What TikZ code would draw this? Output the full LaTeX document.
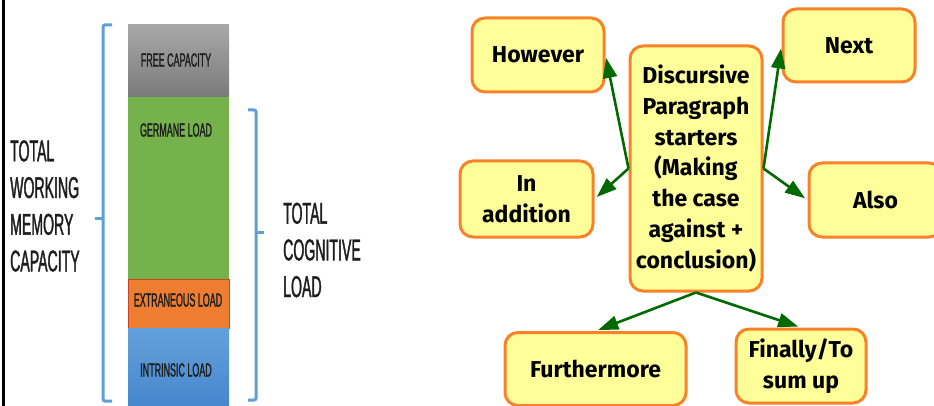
\documentclass[tikz,border=0pt]{standalone}
\usepackage{fontspec}
\setmainfont{Fira Sans}
\newfontfamily\narrowsans[FakeStretch=0.47,FakeBold=1.2]{Liberation Sans}
\usetikzlibrary{arrows.meta}

\definecolor{bracketblue}{RGB}{96,158,214}
\definecolor{freetop}{RGB}{168,168,168}
\definecolor{freebot}{RGB}{122,122,122}
\definecolor{germane}{RGB}{118,178,76}
\definecolor{extraneous}{RGB}{238,125,50}
\definecolor{extraedge}{RGB}{200,70,40}
\definecolor{intrtop}{RGB}{100,160,218}
\definecolor{intrbot}{RGB}{70,135,205}
\definecolor{labelink}{RGB}{30,30,30}
\definecolor{boxfill}{RGB}{255,255,153}
\definecolor{boxedge}{RGB}{248,130,40}
\definecolor{arrowgreen}{RGB}{0,105,0}

\tikzset{
  bracket/.style={draw=bracketblue, line width=3pt},
  sidelabel/.style={font=\narrowsans\fontsize{30}{36.7}\selectfont, align=left,
    inner sep=0pt, text=labelink},
  barlabel/.style={font=\narrowsans\fontsize{19}{22}\selectfont, inner sep=0pt,
    text=labelink},
  starter/.style={draw=boxedge, fill=boxfill, line width=3pt, rounded corners=13pt,
    align=center, inner sep=2pt, font=\bfseries\fontsize{23}{30.7}\selectfont,
    minimum width=#1},
  flow/.style={draw=arrowgreen, line width=2.6pt,
    -{Triangle[length=20pt,width=14pt]}, shorten >=3pt}
}

\begin{document}
\begin{tikzpicture}[x=1pt,y=-1pt]
\useasboundingbox (0,0) rectangle (934,406);

% frame line at the left edge
\draw[line width=3pt] (3,0) -- (3,406);

% stacked capacity bar
\shade[top color=freetop, bottom color=freebot] (128,25) rectangle (229,97);
\fill[germane] (128,97) rectangle (229,279);
\filldraw[fill=extraneous, draw=extraedge, line width=0.8pt] (128,279) rectangle (229,328);
\shade[top color=intrtop, bottom color=intrbot] (128,328) rectangle (229,406);

\node[barlabel] (free)  at (176,60)  {FREE CAPACITY};
\node[barlabel] (germ)  at (176,130) {GERMANE LOAD};
\node[barlabel] (extra) at (178,300) {EXTRANEOUS LOAD};
\node[barlabel] (intr)  at (176,370) {INTRINSIC LOAD};

% brackets
\draw[bracket, rounded corners=2pt] (112,25) -- (103,25) -- (103,401) -- (112,401);
\draw[bracket] (103,219) -- (95,219);
\draw[bracket, rounded corners=2pt] (248,110) -- (256,110) -- (256,400) -- (248,400);
\draw[bracket] (256,232) -- (264,232);

\node[sidelabel, anchor=west] (wm) at (10,206) {TOTAL\\WORKING\\MEMORY\\CAPACITY};
\node[sidelabel, anchor=west] (cl) at (283,250) {TOTAL\\COGNITIVE\\LOAD};

% paragraph starters
\node[starter=132pt, minimum height=245pt] (hub) at (696,168.5)
  {Discursive\\Paragraph\\starters\\(Making\\the case\\against +\\conclusion)};
\node[starter=132pt, minimum height=74pt] (however) at (538,55) {However};
\node[starter=132pt, minimum height=73pt] (next) at (849,45.5) {Next};
\node[starter=133pt, minimum height=76pt] (inadd) at (526.5,199) {In\\addition};
\node[starter=133pt, minimum height=74pt] (also) at (875.5,200) {Also};
\node[starter=181pt, minimum height=73pt] (further) at (595.5,369) {Furthermore};
\node[starter=130pt, minimum height=74pt] (finally) at (801,366) {Finally/To\\sum up};

\draw[flow] (hub.west) -- (however.east);
\draw[flow] (hub.west) -- (inadd.east);
\draw[flow] (hub.east) -- (next.west);
\draw[flow] (hub.east) -- (also.west);
\draw[flow] (hub.south) -- (further.north);
\draw[flow] (hub.south) -- (finally.north);
\end{tikzpicture}
\end{document}
